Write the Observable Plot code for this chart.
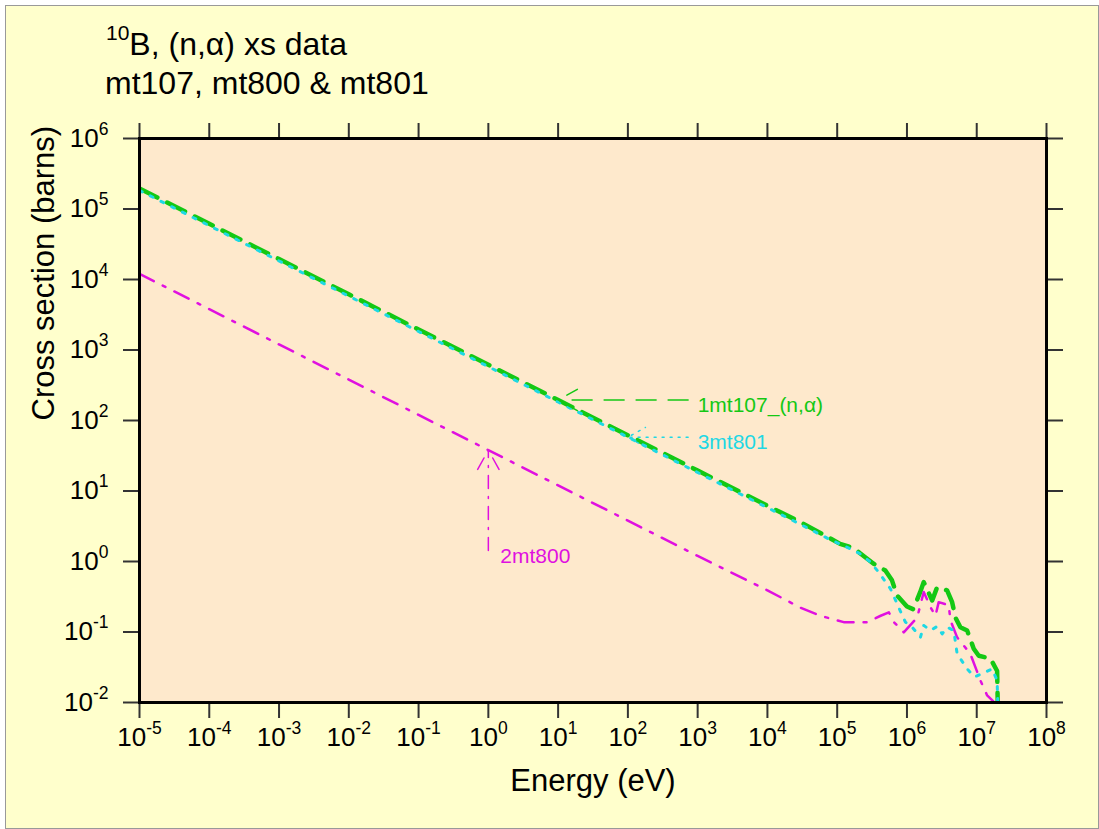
<!DOCTYPE html>
<html><head><meta charset="utf-8">
<script src="https://cdn.jsdelivr.net/npm/d3@7"></script>
<script src="https://cdn.jsdelivr.net/npm/@observablehq/plot@0.6"></script>
<style>
html,body{margin:0;padding:0;background:#fff;}
svg{display:block}
</style></head><body><div id="chart"></div>
<script>
// ---- data ----
const xTicks = [1e-5,1e-4,1e-3,1e-2,1e-1,1,10,100,1e3,1e4,1e5,1e6,1e7,1e8];
const yTicks = [1e-2,1e-1,1,10,100,1e3,1e4,1e5,1e6];

// mt107 (n,alpha) total
const E107 = [1e-5,1e-4,1e-3,1e-2,1e-1,1,10,100,1e3,1e4,3e4,7.5e4,1.1e5,1.72e5,2.15e5,3.33e5,4.9e5,6.1e5,7.2e5,1e6,1.23e6,1.55e6,1.74e6,2.3e6,2.7e6,3.76e6,4.44e6,4.95e6,5.83e6,7.28e6,9.06e6,1.07e7,1.57e7,1.96e7,2e7];
const XS107 = [1.95e5,6.17e4,1.95e4,6170,1950,617,195,61.7,19.5,6.17,3.6,2.2,1.78,1.56,1.3,0.93,0.745,0.54,0.33,0.23,0.21,0.37,0.51,0.28,0.43,0.39,0.265,0.16,0.117,0.105,0.058,0.046,0.042,0.028,0.0098];

// mt800 (n,alpha0)
const E800 = [1e-5,1e-4,1e-3,1e-2,1e-1,1,10,100,1e3,1e4,3e4,5.7e4,1.24e5,2.7e5,4.2e5,5.5e5,6.5e5,9e5,1.4e6,1.74e6,2.17e6,2.56e6,2.85e6,3.97e6,4.2e6,5.24e6,8.1e6,1.13e7,1.41e7,1.9e7];
const XS800 = [1.2e4,3800,1200,380,120,38,12,3.8,1.2,0.39,0.22,0.17,0.138,0.138,0.17,0.19,0.138,0.099,0.16,0.37,0.225,0.17,0.265,0.24,0.146,0.084,0.049,0.0205,0.0126,0.0095];

// mt801 (n,alpha1)
const E801 = [1e-5,1e-4,1e-3,1e-2,1e-1,1,10,100,1e3,1e4,3e4,7.5e4,1.55e5,2.15e5,3e5,3.95e5,5.8e5,8e5,9.5e5,1.19e6,1.56e6,1.74e6,2.17e6,2.7e6,3.2e6,3.76e6,4.7e6,4.95e6,5.24e6,7.3e6,9.25e6,1.33e7,1.66e7,1.96e7,2e7];
const XS801 = [1.83e5,5.8e4,1.83e4,5800,1830,580,183,58,18.3,5.8,3.35,2.1,1.51,1.28,0.98,0.70,0.41,0.20,0.138,0.117,0.084,0.124,0.105,0.12,0.094,0.117,0.105,0.072,0.049,0.030,0.023,0.027,0.030,0.0205,0.0098];

// legend pointers
const legendNames = ["1mt107_(n,\u03b1)", "2mt800", "3mt801"];
const legendTipE  = [10, 1, 100];
const legendTipXS = [195, 38, 58];
const legendTailE = [730, 1, 730];
const legendTailXS= [195, 1.43, 58];
const legendTextE = [1000, 1, 1000];
const legendTextXS= [195, 1.43, 58];

const GREEN = "#14c814", MAGENTA = "#e010e0", CYAN = "#1ed8e4";
const FONT = '"Liberation Sans", Arial, Helvetica, sans-serif';

const rows = (E, S) => E.map((e, i) => ({e, xs: S[i]}));
const fmt = d => "10^" + Math.round(Math.log10(d));

const plot = Plot.plot({
  width: 1099, height: 829,
  marginLeft: 139, marginRight: 53, marginTop: 138, marginBottom: 127,
  style: {background: "transparent", fontFamily: FONT},
  x: {type: "log", domain: [1e-5, 1e8]},
  y: {type: "log", domain: [1e-2, 1e6]},
  marks: [
    Plot.frame({fill: "#fee9cc", stroke: "none"}),
    Plot.line(rows(E107, XS107), {x: "e", y: "xs", stroke: GREEN, strokeWidth: 4.5, strokeDasharray: "20,11", clip: true}),
    Plot.line(rows(E800, XS800), {x: "e", y: "xs", stroke: MAGENTA, strokeWidth: 2.5, strokeDasharray: "16,10,3,10", clip: true}),
    Plot.line(rows(E801, XS801), {x: "e", y: "xs", stroke: CYAN, strokeWidth: 3, strokeDasharray: "3,9", clip: true}),
    // pointers
    Plot.arrow([0], {x1: legendTailE[0], y1: legendTailXS[0], x2: legendTipE[0], y2: legendTipXS[0], stroke: GREEN, strokeWidth: 1.5, strokeDasharray: "20,12", headLength: 22, headAngle: 58}),
    Plot.arrow([0], {x1: legendTailE[1], y1: legendTailXS[1], x2: legendTipE[1], y2: legendTipXS[1], stroke: MAGENTA, strokeWidth: 1.5, strokeDasharray: "13,8,2,8", headLength: 22, headAngle: 58}),
    Plot.arrow([0], {x1: legendTailE[2], y1: legendTailXS[2], x2: legendTipE[2], y2: legendTipXS[2], stroke: CYAN, strokeWidth: 1.5, strokeDasharray: "2,6", headLength: 22, headAngle: 58}),
    Plot.text([0], {x: legendTextE[0], y: legendTextXS[0], text: [legendNames[0]], fill: GREEN, fontSize: 21, textAnchor: "start", dy: 5}),
    Plot.text([0], {x: legendTextE[2], y: legendTextXS[2], text: [legendNames[2]], fill: CYAN, fontSize: 21, textAnchor: "start", dy: 5}),
    Plot.text([0], {x: legendTextE[1], y: legendTextXS[1], text: [legendNames[1]], fill: MAGENTA, fontSize: 21, textAnchor: "start", lineAnchor: "bottom", dx: 12, dy: 12}),
    // axes
    Plot.axisX(xTicks, {anchor: "bottom", tickSize: 16, tickPadding: 9.5, fontSize: 26, tickFormat: fmt, label: null, stroke: "#333", strokeWidth: 2, fill: "black"}),
    Plot.axisX(xTicks, {anchor: "top", tickSize: 16, tickFormat: () => "", label: null, stroke: "#333", strokeWidth: 2}),
    Plot.axisY(yTicks, {anchor: "left", tickSize: 16, tickPadding: 15, fontSize: 26, tickFormat: fmt, label: null, stroke: "#333", strokeWidth: 2, fill: "black"}),
    Plot.axisY(yTicks, {anchor: "right", tickSize: 16, tickFormat: () => "", label: null, stroke: "#333", strokeWidth: 2}),
    Plot.frame({stroke: "black", strokeWidth: 3}),
    Plot.text(["Energy (eV)"], {text: d => d, frameAnchor: "bottom", dy: 88, lineAnchor: "bottom", fontSize: 31, fill: "black"}),
    Plot.text(["Cross section (barns)"], {text: d => d, frameAnchor: "left", rotate: -90, dx: -86, lineAnchor: "bottom", fontSize: 31, fill: "black"})
  ]
});

const NS = "http://www.w3.org/2000/svg";
// superscript tick labels
plot.querySelectorAll('g[aria-label="x-axis tick label"] text, g[aria-label="y-axis tick label"] text').forEach(t => {
  const m = (t.textContent || "").match(/^10\^(.*)$/);
  if (!m) return;
  t.textContent = "10";
  t.setAttribute("font-size", "26");
  const ts = document.createElementNS(NS, "tspan");
  ts.setAttribute("font-size", "17.5");
  ts.setAttribute("dy", "-12");
  ts.textContent = m[1];
  t.appendChild(ts);
});

// background
const bg = document.createElementNS(NS, "rect");
bg.setAttribute("x", 5.5); bg.setAttribute("y", 5.5);
bg.setAttribute("width", 1093); bg.setAttribute("height", 823);
bg.setAttribute("fill", "#ffffcc"); bg.setAttribute("stroke", "#999");
plot.insertBefore(bg, plot.firstChild);

// title
function addText(x, y, parts) {
  const t = document.createElementNS(NS, "text");
  t.setAttribute("x", x); t.setAttribute("y", y);
  t.setAttribute("font-size", 32); t.setAttribute("fill", "black");
  t.setAttribute("font-family", FONT);
  t.setAttribute("text-anchor", "start");
  parts.forEach(([txt, size, dy]) => {
    const s = document.createElementNS(NS, "tspan");
    if (size) s.setAttribute("font-size", size);
    if (dy) s.setAttribute("dy", dy);
    s.textContent = txt;
    t.appendChild(s);
  });
  plot.appendChild(t);
}
addText(106, 55, [["10", 21, -15], ["B, (n,\u03b1) xs data", 32, 15]]);
addText(105, 94, [["mt107, mt800 & mt801", 32, 0]]);

document.getElementById("chart").appendChild(plot);
</script></body></html>
